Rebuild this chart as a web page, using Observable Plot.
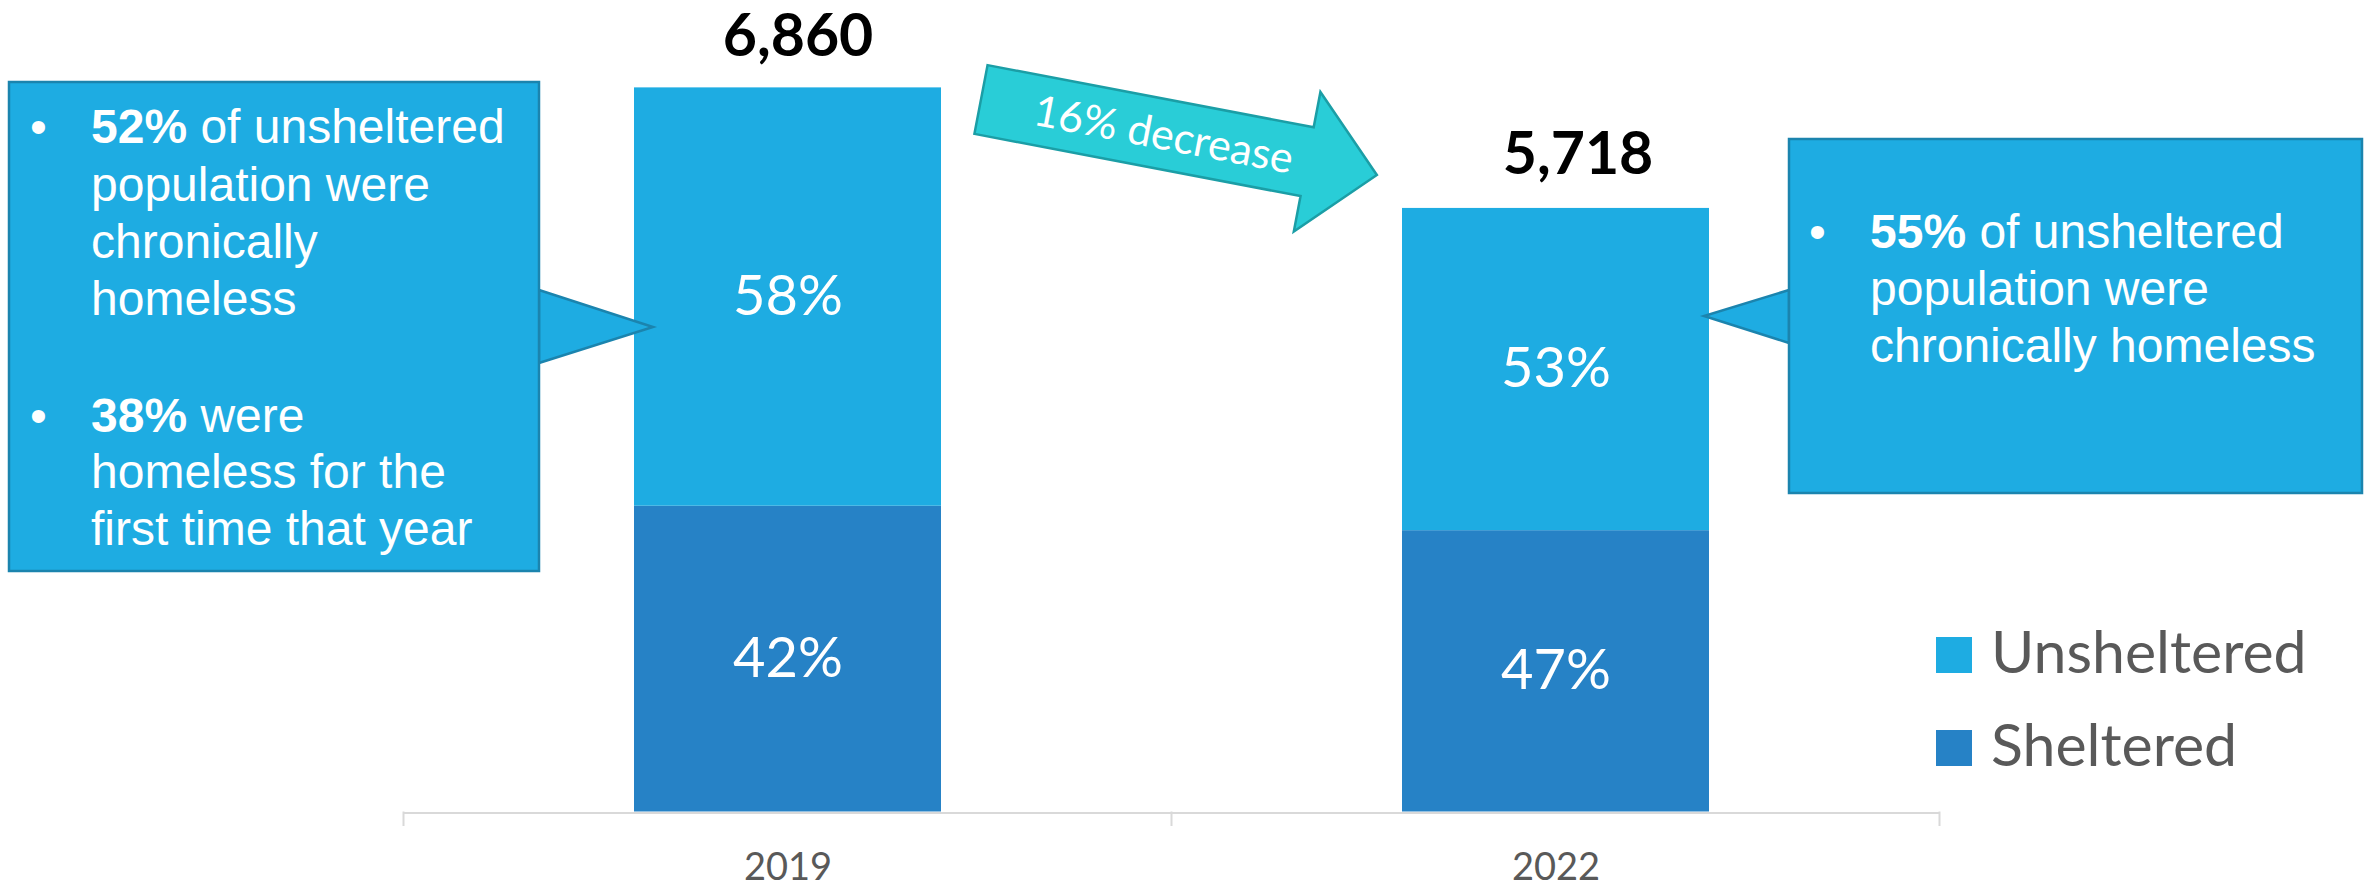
<!DOCTYPE html>
<html>
<head>
<meta charset="utf-8">
<script src="https://cdn.jsdelivr.net/npm/d3@7"></script>
<script src="https://cdn.jsdelivr.net/npm/@observablehq/plot@0.6"></script>
<style>
  html, body { margin: 0; padding: 0; background: #ffffff; }
  #chart { position: relative; width: 2372px; height: 886px; overflow: hidden; }
</style>
</head>
<body>
<div id="chart"></div>
<script>
// ---------- data ----------
const years = ["2019", "2022"];
const groups = ["Sheltered", "Unsheltered"];        // stacking order, bottom to top
const sheltered = [2897, 2665];
const unsheltered = [3963, 3053];
const totals = [6860, 5718];
const groupColors = ["#2682c6", "#1eace2"];
const legendItems = ["Unsheltered", "Sheltered"];
const changeLabel = "16% decrease";
// callout text: [bold part, regular part, starts a bullet]
const callout2019 = [
  ["52%", " of unsheltered", true],
  ["", "population were", false],
  ["", "chronically", false],
  ["", "homeless", false],
  ["38%", " were", true],
  ["", "homeless for the", false],
  ["", "first time that year", false]
];
const callout2022 = [
  ["55%", " of unsheltered", true],
  ["", "population were", false],
  ["", "chronically homeless", false]
];

// ---------- build table ----------
const rows = years.flatMap((yr, i) => [
  {year: yr, group: "Sheltered", value: sheltered[i], total: totals[i]},
  {year: yr, group: "Unsheltered", value: unsheltered[i], total: totals[i]}
]);
const totalRows = years.map((yr, i) => ({year: yr, total: totals[i]}));
const fmt = d3.format(",");

const plot = Plot.plot({
  width: 2372,
  height: 886,
  marginLeft: 403,
  marginRight: 432,
  marginTop: 72.6,
  marginBottom: 74.5,
  style: {fontFamily: "Lato, sans-serif", fontSize: "38px", color: "#595959", background: "#ffffff"},
  x: {domain: years, paddingInner: 0.6, paddingOuter: 0.3, label: null, tickSize: 0, tickPadding: 41},
  y: {domain: [0, 7000], axis: null},
  color: {domain: groups, range: groupColors},
  marks: [
    Plot.ruleY([0], {stroke: "#d9d9d9", strokeWidth: 2, dy: 1}),
    Plot.barY(rows, {x: "year", y: "value", z: "group", fill: "group"}),
    Plot.text(rows, Plot.stackY({
      x: "year", y: "value", z: "group",
      text: d => Math.round(d.value / d.total * 100) + "%",
      fill: "white", fontSize: 56
    })),
    Plot.text([totalRows[0]], {x: "year", y: "total", text: d => fmt(d.total), fontWeight: "bold", fontSize: 59, fill: "black", dx: 10, dy: -51}),
    Plot.text([totalRows[1]], {x: "year", y: "total", text: d => fmt(d.total), fontWeight: "bold", fontSize: 59, fill: "black", dx: 22, dy: -53})
  ]
});

document.getElementById("chart").appendChild(plot);

// ---------- annotations ----------
const svg = d3.select(plot);
const xs = plot.scale("x");
const ys = plot.scale("y");
const y0 = ys.apply(0);

// category boundary tick marks on the x axis
const gap = xs.step - xs.bandwidth;
const bounds = years.map(yr => xs.apply(yr) - gap / 2).concat([xs.apply(years[years.length - 1]) + xs.bandwidth + gap / 2]);
svg.append("g").selectAll("line").data(bounds).join("line")
  .attr("x1", d => d).attr("x2", d => d)
  .attr("y1", y0).attr("y2", y0 + 14.5)
  .attr("stroke", "#d9d9d9").attr("stroke-width", 2);

const boxFill = "#1eace2", boxStroke = "#1b84ae";

function callout(lines, box, tip, textX, bulletX, baselines) {
  const g = svg.append("g").attr("text-anchor", "start");
  g.append("path")
    .attr("d", `M${tip.baseX},${tip.y1}L${tip.x},${tip.y}L${tip.baseX},${tip.y2}Z`)
    .attr("fill", boxFill).attr("stroke", boxStroke).attr("stroke-width", 2.5);
  g.append("rect")
    .attr("x", box.x).attr("y", box.y).attr("width", box.w).attr("height", box.h)
    .attr("fill", boxFill).attr("stroke", boxStroke).attr("stroke-width", 2.5);
  lines.forEach((ln, i) => {
    if (ln[2]) {
      g.append("text").attr("x", bulletX).attr("y", baselines[i])
        .attr("text-anchor", "start")
        .attr("fill", "white").attr("font-family", "'Liberation Sans', Arial, sans-serif")
        .attr("font-size", 48).text("\u2022");
    }
    const t = g.append("text").attr("x", textX).attr("y", baselines[i])
      .attr("text-anchor", "start")
      .attr("fill", "white").attr("font-family", "'Liberation Sans', Arial, sans-serif")
      .attr("font-size", 48).style("white-space", "pre");
    if (ln[0]) t.append("tspan").attr("font-weight", "bold").text(ln[0]);
    t.append("tspan").text(ln[1]);
  });
}

callout(callout2019,
  {x: 9, y: 82, w: 530, h: 489},
  {baseX: 539, y1: 290, y2: 363, x: 653, y: 327},
  91, 30, [143, 201, 258, 315, 432, 488, 545]);

callout(callout2022,
  {x: 1789, y: 139, w: 573, h: 354},
  {baseX: 1789, y1: 290, y2: 343, x: 1704, y: 316},
  1870, 1809, [248, 305, 362]);

// decrease arrow
const arrow = svg.append("g").attr("transform", "translate(981,99.5) rotate(10.8)");
arrow.append("path")
  .attr("d", "M0,-35L332,-35L332,-71L403,0L332,71L332,35L0,35Z")
  .attr("fill", "#29cdd7").attr("stroke", "#1b9ea6").attr("stroke-width", 2.5).attr("stroke-linejoin", "miter");
arrow.append("text")
  .attr("x", 186).attr("y", 0).attr("dy", "0.35em")
  .attr("text-anchor", "middle").attr("fill", "white")
  .attr("font-family", "Lato, sans-serif").attr("font-size", 43)
  .text(changeLabel);

// legend
const colorScale = plot.scale("color");
const legendY = [637, 730];
const lg = svg.append("g").attr("text-anchor", "start");
legendItems.forEach((name, i) => {
  lg.append("rect").attr("x", 1936).attr("y", legendY[i]).attr("width", 36).attr("height", 36)
    .attr("fill", colorScale.apply(name));
  lg.append("text").attr("x", 1991).attr("y", legendY[i] + 35.5)
    .attr("text-anchor", "start")
    .attr("fill", "#595959").attr("font-family", "Lato, sans-serif").attr("font-size", 59)
    .text(name);
});
</script>
</body>
</html>
